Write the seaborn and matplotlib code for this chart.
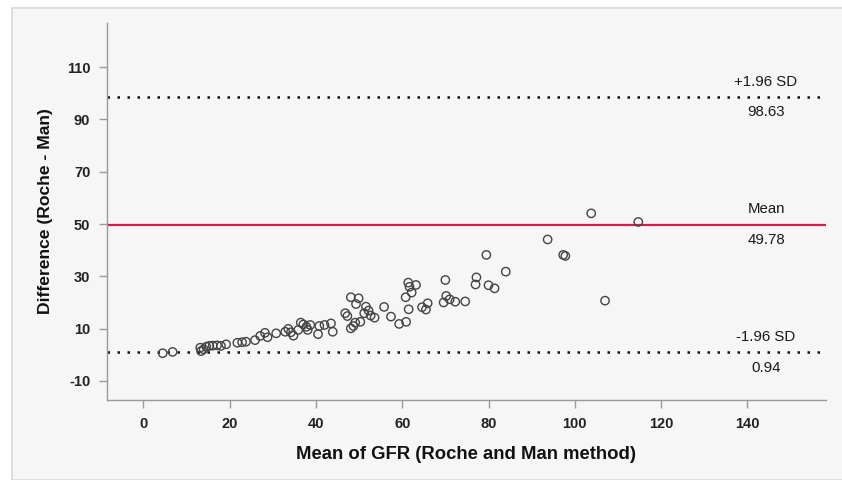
import matplotlib
matplotlib.use("Agg")
import matplotlib.pyplot as plt
from matplotlib.patches import Rectangle
import pandas as pd
import seaborn as sns

# Bland-Altman: mean of the two methods vs difference (Roche - Man)
mean_gfr = [4.5, 6.8, 13.2, 13.4, 14.0, 14.6, 15.3, 16.1, 17.1, 18.0,
            19.2, 21.8, 22.9, 23.8, 25.9, 27.1, 28.2, 28.8, 30.8, 32.9,
            33.6, 34.2, 34.8, 35.9, 36.5, 37.1, 37.8, 38.1, 38.7, 40.5,
            40.8, 42.0, 43.5, 43.9, 46.8, 47.3, 48.1, 49.3, 49.9, 48.1,
            48.7, 49.1, 50.3, 51.2, 51.6, 52.2, 52.7, 53.6, 55.8, 57.4,
            59.3, 60.9, 60.8, 61.4, 61.7, 62.2, 63.2, 61.5, 64.6, 65.5,
            65.9, 69.6, 70.0, 70.2, 71.0, 72.3, 74.6, 77.2, 77.0, 79.5,
            80.0, 81.4, 84.0, 93.7, 97.3, 97.8, 103.8, 114.7, 107.0]
diff_gfr = [0.6, 1.1, 2.7, 1.4, 2.1, 3.1, 3.4, 3.5, 3.6, 3.4,
            4.0, 4.6, 4.8, 5.0, 5.6, 7.2, 8.4, 6.7, 8.2, 8.8,
            9.9, 8.6, 7.3, 9.5, 12.3, 11.6, 10.7, 9.5, 11.4, 7.9,
            11.0, 11.4, 12.0, 8.8, 15.9, 14.8, 22.0, 19.4, 21.6, 10.1,
            11.0, 12.3, 12.6, 15.9, 18.4, 16.9, 15.0, 14.2, 18.3, 14.6,
            11.8, 12.6, 22.0, 27.6, 26.0, 23.8, 26.7, 17.4, 18.2, 17.3,
            19.7, 20.0, 28.6, 22.5, 21.2, 20.3, 20.4, 29.6, 26.9, 38.2,
            26.6, 25.4, 31.8, 44.1, 38.2, 37.8, 54.1, 50.8, 20.7]

mean_diff = 49.78
upper_loa = 98.63
lower_loa = 0.94

df = pd.DataFrame({"mean": mean_gfr, "diff": diff_gfr})

sns.set_style("ticks")
plt.rcParams["font.family"] = ["Liberation Sans", "DejaVu Sans"]
plt.rcParams["axes.unicode_minus"] = False

panel = "#f6f6f6"
fig = plt.figure(figsize=(8.42, 4.8), dpi=100, facecolor="white")
fig.patches.append(Rectangle((12 / 842, 0), 1, 1 - 8 / 480, transform=fig.transFigure,
                             facecolor=panel, edgecolor="#d8d8d8", linewidth=1.2, zorder=-10))
ax = fig.add_axes([107 / 842, 80 / 480, (826 - 107) / 842, (400 - 23) / 480])
ax.set_facecolor(panel)

sns.scatterplot(data=df, x="mean", y="diff", ax=ax, s=36, marker="o",
                facecolor="none", edgecolor="#444444", linewidth=1.0, zorder=3)

ax.axhline(mean_diff, color="#d91a4d", linewidth=1.6, zorder=2)
for v in (upper_loa, lower_loa):
    ax.axhline(v, color="#111111", linewidth=1.8, linestyle=(0, (1, 3)), zorder=2)

lbl_x = 144.3
labels = [(upper_loa, "+1.96 SD", f"{upper_loa:.2f}"),
          (mean_diff, "Mean", f"{mean_diff:.2f}"),
          (lower_loa, "-1.96 SD", f"{lower_loa:.2f}")]
for v, top, bottom in labels:
    ax.annotate(top, (lbl_x, v), xytext=(0, 6), textcoords="offset points",
                ha="center", va="bottom", fontsize=10.8, color="#1a1a1a")
    ax.annotate(bottom, (lbl_x, v), xytext=(0, -6), textcoords="offset points",
                ha="center", va="top", fontsize=10.8, color="#1a1a1a")

ax.set_xlim(-8.4, 158.2)
ax.set_ylim(-17.3, 126.9)
ax.set_xticks([0, 20, 40, 60, 80, 100, 120, 140])
ax.set_yticks([-10, 10, 30, 50, 70, 90, 110])

sns.despine(ax=ax)
for s in ("left", "bottom"):
    ax.spines[s].set_color("#9a9a9a")
    ax.spines[s].set_linewidth(1.0)
ax.tick_params(axis="both", colors="#9a9a9a", length=6, width=1.0, pad=6,
               labelcolor="#222222", labelsize=10.5)
for t in ax.get_xticklabels() + ax.get_yticklabels():
    t.set_fontweight("bold")

ax.set_xlabel("Mean of GFR (Roche and Man method)", fontsize=13.3,
              fontweight="bold", color="#111111", labelpad=11)
ax.set_ylabel("Difference (Roche - Man)", fontsize=12.6,
              fontweight="bold", color="#111111", labelpad=10)

fig.savefig("out.png", dpi=100, facecolor=fig.get_facecolor())
